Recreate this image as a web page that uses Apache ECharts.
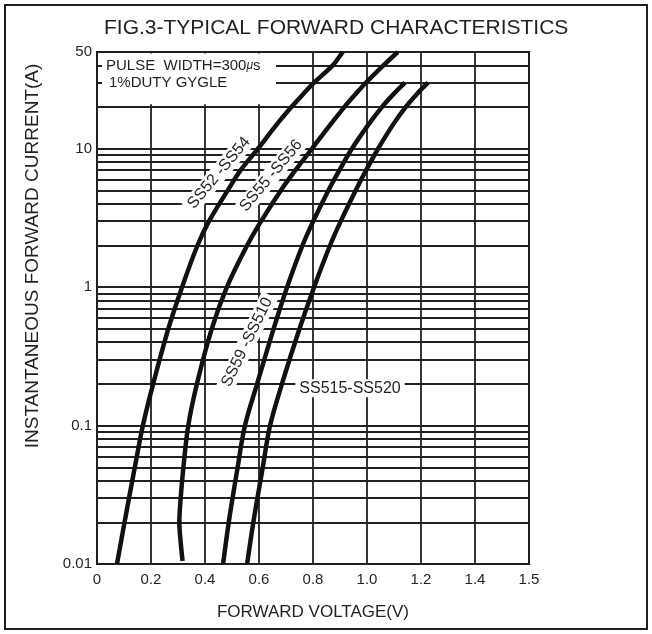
<!DOCTYPE html>
<html><head><meta charset="utf-8">
<script src="https://cdn.jsdelivr.net/npm/echarts@6/dist/echarts.min.js"></script>
<style>html,body{margin:0;padding:0;background:#fff}#c{width:652px;height:634px}</style>
</head><body><div id="c"></div>
<script>
// ---- data ----
const xTickLabels = ['0','0.2','0.4','0.6','0.8','1.0','1.2','1.4','1.5'];
const yTickValues = [0.01, 0.1, 1, 10, 50];
const yTickLabels = ['0.01', '0.1', '1', '10', '50'];
const yGridValues = [0.02,0.03,0.04,0.05,0.06,0.07,0.08,0.09,0.1,
                     0.2,0.3,0.4,0.5,0.6,0.7,0.8,0.9,1,
                     2,3,4,5,6,7,8,9,10,20,30,40];
const seriesNames = ['SS52 -SS54', 'SS55 -SS56', 'SS59 -SS510', 'SS515-SS520'];
// [forward voltage (V), forward current (A)]
const ss52_54 = [[0.074,0.01],[0.102,0.02],[0.14,0.05],[0.17,0.1],[0.208,0.2],[0.264,0.5],[0.315,1],[0.372,2],[0.415,3],[0.484,5],[0.532,7],[0.596,10],[0.666,15],[0.72,20],[0.765,25],[0.804,30],[0.873,40],[0.897,46],[0.91,50]];
const ss55_56 = [[0.317,0.0105],[0.31,0.0143],[0.305,0.02],[0.31,0.03],[0.32,0.05],[0.338,0.1],[0.37,0.2],[0.425,0.5],[0.481,1],[0.556,2],[0.608,3],[0.681,5],[0.735,7],[0.796,10],[0.865,15],[0.916,20],[0.959,25],[0.996,30],[1.061,40],[1.114,50]];
const ss59_510 = [[0.467,0.01],[0.488,0.02],[0.521,0.05],[0.548,0.1],[0.593,0.2],[0.654,0.5],[0.704,1],[0.761,2],[0.801,3],[0.857,5],[0.898,7],[0.944,10],[1.006,15],[1.055,20],[1.1,25],[1.141,30]];
const ss515_520 = [[0.556,0.01],[0.579,0.02],[0.614,0.05],[0.641,0.1],[0.685,0.2],[0.75,0.5],[0.804,1],[0.863,2],[0.903,3],[0.958,5],[0.997,7],[1.041,10],[1.097,15],[1.143,20],[1.186,25],[1.226,30]];
const curves = [ss52_54, ss55_56, ss59_510, ss515_520];
const titleText = 'FIG.3-TYPICAL FORWARD CHARACTERISTICS';
const xName = 'FORWARD VOLTAGE(V)';
const yName = 'INSTANTANEOUS FORWARD CURRENT(A)';
const noteLines = ['PULSE  WIDTH=300{m|\u03bc}s', '1%DUTY GYGLE'];

// ---- styling / layout ----
const FONT = '"Liberation Sans", Arial, Helvetica, sans-serif';
const INK = '#231f20';
function yLabel(v){
  for (let i=0;i<yTickValues.length;i++){ if (Math.abs(v-yTickValues[i])/yTickValues[i] < 1e-4) return yTickLabels[i]; }
  return '';
}
const chart = echarts.init(document.getElementById('c'), null, {renderer:'canvas'});
const series = curves.map((d,i)=>({
  type:'line', name:seriesNames[i], data:d, showSymbol:false, symbol:'none',
  smooth:0.35, lineStyle:{color:'#111', width:4.5, cap:'butt'}, z:5, silent:true, animation:false
}));
series.push({
  type:'line', name:'grid', data:[[0.5,1]], showSymbol:false, symbol:'none',
  lineStyle:{width:0, opacity:0}, z:1, silent:true, animation:false,
  markLine:{silent:true, symbol:['none','none'], label:{show:false}, animation:false,
    emphasis:{disabled:true},
    lineStyle:{color:INK, width:1.8, type:'solid'},
    data: yGridValues.map(v=>({yAxis:v}))}
});
chart.setOption({
  animation:false,
  backgroundColor:'#fff',
  textStyle:{fontFamily:FONT},
  title:{text:titleText, left:99, top:13,
    textStyle:{fontSize:21, fontWeight:'normal', color:INK, fontFamily:FONT}},
  grid:{left:97, right:123, top:52, bottom:70, show:true, borderColor:INK, borderWidth:2, backgroundColor:'transparent'},
  xAxis:{type:'value', min:0, max:1.6, interval:0.2,
    axisLine:{show:false}, axisTick:{show:false},
    splitLine:{show:true, lineStyle:{color:INK, width:1.8}},
    axisLabel:{fontSize:15, color:INK, fontFamily:FONT, margin:8, showMinLabel:true, showMaxLabel:true,
      formatter:v=>xTickLabels[Math.round(v/0.2)]},
    name:xName, nameLocation:'middle', nameGap:40,
    nameTextStyle:{fontSize:17, color:INK, fontFamily:FONT}},
  yAxis:{type:'log', logBase:10, min:0.01, max:50,
    axisLine:{show:false},
    axisTick:{show:false},
    splitLine:{show:false},
    axisLabel:{customValues:yTickValues, formatter:yLabel, fontSize:15, color:INK, fontFamily:FONT, margin:5}},
  series:series
});

// ---- annotations ----
const P = (x,y)=>chart.convertToPixel({gridIndex:0},[x,y]);
const curveLabels = [
  {text:'SS52 -SS54', at:[0.452,6.7], angle:50},
  {text:'SS55 -SS56', at:[0.645,6.4], angle:50},
  {text:'SS59 -SS510', at:[0.556,0.40], angle:64},
  {text:'SS515-SS520', at:[0.937,0.186], angle:0}
];
const g = [];
g.push({type:'rect', silent:true, zlevel:1, shape:{x:5,y:5,width:642,height:624},
  style:{fill:'transparent', stroke:INK, lineWidth:2}});
const a = P(0,50), b = P(0.663,21);
g.push({type:'rect', silent:true, zlevel:1, z:1, shape:{x:a[0]+5, y:a[1]+1.5, width:b[0]-a[0]-5, height:b[1]-a[1]-1.5},
  style:{fill:'#fff'}});
const n40 = P(0,40), n30 = P(0,30);
g.push({type:'text', silent:true, zlevel:1, z:2, x:a[0]+9, y:n40[1],
  style:{text:noteLines[0], fill:INK, font:'15px '+FONT, textAlign:'left', textVerticalAlign:'middle',
    rich:{m:{fontStyle:'italic', fontSize:12, fill:INK, fontFamily:FONT}}}});
g.push({type:'text', silent:true, zlevel:1, z:2, x:a[0]+12, y:n30[1],
  style:{text:noteLines[1], fill:INK, font:'15px '+FONT, textAlign:'left', textVerticalAlign:'middle'}});
curveLabels.forEach(l=>{
  const p = P(l.at[0], l.at[1]);
  g.push({type:'text', silent:true, zlevel:1, z:2, x:p[0], y:p[1], rotation:l.angle*Math.PI/180,
    style:{text:l.text, fill:INK, font:'16px '+FONT, textAlign:'center', textVerticalAlign:'middle',
      backgroundColor:'#fff', padding:[1,4]}});
});
g.push({type:'text', silent:true, zlevel:1, z:2, x:33, y:256, rotation:Math.PI/2,
  style:{text:yName, fill:INK, font:'19px '+FONT, textAlign:'center', textVerticalAlign:'middle'}});
chart.setOption({graphic:g});
</script>
</body></html>
